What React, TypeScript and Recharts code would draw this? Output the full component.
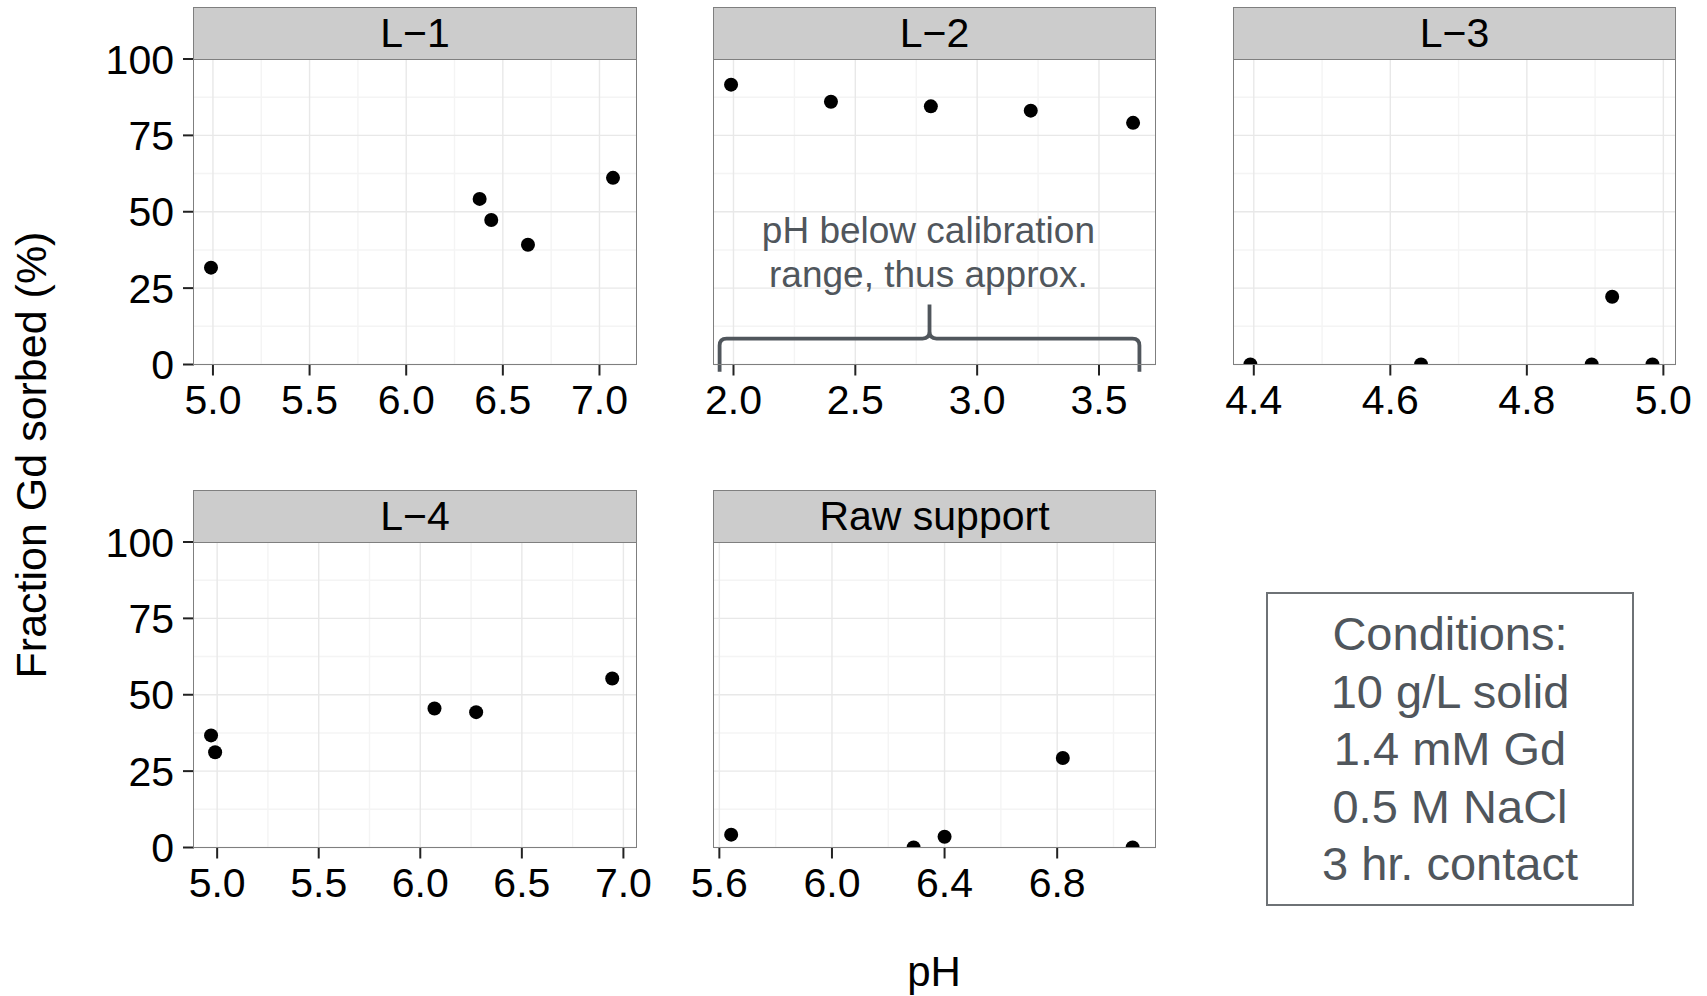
import React from "react";
import {
  ScatterChart,
  Scatter,
  XAxis,
  YAxis,
  ReferenceLine,
  ReferenceDot,
} from "recharts";

const FONT = '"Liberation Sans", Arial, Helvetica, sans-serif';
const NOTE_COLOR = "#50565c";

// values (pH, % Gd sorbed)
const l1PH = [4.99, 6.38, 6.44, 6.63, 7.07];
const l1Sorbed = [31.7, 54.2, 47.3, 39.2, 61.1];
const l2PH = [1.99, 2.4, 2.81, 3.22, 3.64];
const l2Sorbed = [91.6, 86.0, 84.5, 83.1, 79.1];
const l3PH = [4.395, 4.645, 4.895, 4.925, 4.984];
const l3Sorbed = [0, 0, 0, 22.2, 0];
const l4PH = [4.97, 4.99, 6.07, 6.275, 6.945];
const l4Sorbed = [36.7, 31.2, 45.5, 44.3, 55.3];
const rawPH = [5.642, 6.29, 6.4, 6.82, 7.068];
const rawSorbed = [4.2, 0, 3.5, 29.3, 0];

const panelNames = ["L\u22121", "L\u22122", "L\u22123", "L\u22124", "Raw support"];

// x ranges of each panel
const l1Range = [4.902, 7.189];
const l2Range = [1.92, 3.734];
const l3Range = [4.371, 5.0185];
const l4Range = [4.886, 7.062];
const rawRange = [5.581, 7.151];

// axis ticks
const yTicks = [0, 25, 50, 75, 100];
const yMinor = [12.5, 37.5, 62.5, 87.5];
const l1Ticks = [5.0, 5.5, 6.0, 6.5, 7.0];
const l1Minor = [5.25, 5.75, 6.25, 6.75];
const l2Ticks = [2.0, 2.5, 3.0, 3.5];
const l2Minor = [2.25, 2.75, 3.25];
const l3Ticks = [4.4, 4.6, 4.8, 5.0];
const l3Minor = [4.5, 4.7, 4.9];
const rawTicks = [5.6, 6.0, 6.4, 6.8];
const rawMinor = [5.8, 6.2, 6.6, 7.0];

// annotation on L-2: brace ends (pH) and heights (end, level, peak)
const braceX = [1.943, 3.666];
const braceY = [-2.4, 8.5, 19.6];
const noteLines = ["pH below calibration", "range, thus approx."];
const noteAt = [2.8, 39.9];

const conditions = ["Conditions:", "10 g/L solid", "1.4 mM Gd", "0.5 M NaCl", "3 hr. contact"];

// layout
const PLOT_W = 442;
const PLOT_H = 305.5;
const STRIP_H = 51;
const Y_W = 120;
const M_TOP = 25;
const M_RIGHT = 32;
const X_H = 75;
const COLS = [194, 713.5, 1233.5];
const ROWS = [59, 542];

const Dot = (props: any) => {
  if (props.cx == null || props.cy == null) return null;
  return <circle cx={props.cx} cy={props.cy} r={7} fill="#000" />;
};

const Brace = (props: any) => {
  const { x1, y1, x2, y2 } = props;
  const yl = y1 + ((y2 - y1) * (braceY[1] - braceY[0])) / (braceY[2] - braceY[0]);
  const xm = (x1 + x2) / 2;
  const r = 7;
  const d = [
    `M ${x1} ${y1}`,
    `L ${x1} ${yl + r}`,
    `Q ${x1} ${yl} ${x1 + r} ${yl}`,
    `L ${xm - r} ${yl}`,
    `Q ${xm} ${yl} ${xm} ${yl - r}`,
    `L ${xm} ${y2}`,
    `M ${xm} ${yl - r}`,
    `Q ${xm} ${yl} ${xm + r} ${yl}`,
    `L ${x2 - r} ${yl}`,
    `Q ${x2} ${yl} ${x2} ${yl + r}`,
    `L ${x2} ${y1}`,
  ].join(" ");
  return (
    <path d={d} fill="none" stroke={NOTE_COLOR} strokeWidth={3.8} strokeLinejoin="round" />
  );
};

const Note = (props: any) => (
  <text
    x={props.cx}
    y={props.cy}
    textAnchor="middle"
    fill={NOTE_COLOR}
    fontSize={37}
    fontFamily={FONT}
  >
    <tspan x={props.cx}>{noteLines[0]}</tspan>
    <tspan x={props.cx} dy={44.6}>
      {noteLines[1]}
    </tspan>
  </text>
);

interface PanelProps {
  name: string;
  ph: number[];
  sorbed: number[];
  range: number[];
  ticks: number[];
  minor: number[];
  left: number;
  top: number;
  showY?: boolean;
  note?: boolean;
}

const Panel = ({ name, ph, sorbed, range, ticks, minor, left, top, showY, note }: PanelProps) => {
  const data = ph.map((p, i) => ({ ph: p, sorbed: sorbed[i] }));
  const tickStyle = { fontSize: 41, fill: "#000", fontFamily: FONT };
  return (
    <>
      <div
        style={{
          position: "absolute",
          left: left - Y_W,
          top: top - M_TOP,
        }}
      >
        <ScatterChart
          width={Y_W + PLOT_W + M_RIGHT}
          height={M_TOP + PLOT_H + X_H}
          margin={{ top: M_TOP, right: M_RIGHT, bottom: 0, left: 0 }}
        >
          <XAxis
            type="number"
            dataKey="ph"
            domain={range}
            allowDataOverflow
            ticks={ticks}
            interval={0}
            tickFormatter={(v: number) => v.toFixed(1)}
            tick={tickStyle}
            tickSize={11}
            tickMargin={9}
            tickLine={{ stroke: "#222", strokeWidth: 2 }}
            axisLine={false}
            height={X_H}
          />
          <YAxis
            type="number"
            dataKey="sorbed"
            domain={[0, 100]}
            allowDataOverflow
            ticks={yTicks}
            interval={0}
            tick={showY ? tickStyle : false}
            tickSize={11}
            tickMargin={9}
            tickLine={showY ? { stroke: "#222", strokeWidth: 2 } : false}
            axisLine={false}
            width={Y_W}
          />
          {yMinor.map((v) => (
            <ReferenceLine key={`ym${v}`} y={v} stroke="#f4f4f4" strokeWidth={1.4} />
          ))}
          {minor.map((v) => (
            <ReferenceLine key={`xm${v}`} x={v} stroke="#f4f4f4" strokeWidth={1.4} />
          ))}
          {yTicks.map((v) => (
            <ReferenceLine key={`y${v}`} y={v} stroke="#e8e8e8" strokeWidth={1.4} />
          ))}
          {ticks.map((v) => (
            <ReferenceLine key={`x${v}`} x={v} stroke="#e8e8e8" strokeWidth={1.4} />
          ))}
          {note && (
            <ReferenceLine
              segment={[
                { x: braceX[0], y: braceY[0] },
                { x: braceX[1], y: braceY[2] },
              ]}
              ifOverflow="visible"
              shape={Brace}
            />
          )}
          {note && (
            <ReferenceDot x={noteAt[0]} y={noteAt[1]} r={0} shape={Note} />
          )}
          <Scatter data={data} shape={Dot} isAnimationActive={false} />
        </ScatterChart>
      </div>
      <div
        style={{
          position: "absolute",
          left: left - 0.75,
          top: top - 0.75,
          width: PLOT_W + 1.5,
          height: PLOT_H + 1.5,
          border: "1.5px solid #7f7f7f",
          boxSizing: "border-box",
          pointerEvents: "none",
        }}
      />
      <div
        style={{
          position: "absolute",
          left: left - 0.75,
          top: top - STRIP_H - 0.75,
          width: PLOT_W + 1.5,
          height: STRIP_H + 1.5,
          background: "#cccccc",
          border: "1.5px solid #7f7f7f",
          boxSizing: "border-box",
          display: "flex",
          alignItems: "center",
          justifyContent: "center",
          fontFamily: FONT,
          fontSize: 41,
          color: "#000",
        }}
      >
        {name}
      </div>
    </>
  );
};

export default function App() {
  return (
    <div
      style={{
        position: "absolute",
        left: 0,
        top: 0,
        width: 1707,
        height: 996,
        background: "#fff",
        overflow: "hidden",
        fontFamily: FONT,
      }}
    >
      <Panel name={panelNames[0]} ph={l1PH} sorbed={l1Sorbed} range={l1Range} ticks={l1Ticks} minor={l1Minor} left={COLS[0]} top={ROWS[0]} showY />
      <Panel name={panelNames[1]} ph={l2PH} sorbed={l2Sorbed} range={l2Range} ticks={l2Ticks} minor={l2Minor} left={COLS[1]} top={ROWS[0]} note />
      <Panel name={panelNames[2]} ph={l3PH} sorbed={l3Sorbed} range={l3Range} ticks={l3Ticks} minor={l3Minor} left={COLS[2]} top={ROWS[0]} />
      <Panel name={panelNames[3]} ph={l4PH} sorbed={l4Sorbed} range={l4Range} ticks={l1Ticks} minor={l1Minor} left={COLS[0]} top={ROWS[1]} showY />
      <Panel name={panelNames[4]} ph={rawPH} sorbed={rawSorbed} range={rawRange} ticks={rawTicks} minor={rawMinor} left={COLS[1]} top={ROWS[1]} />

      <div
        style={{
          position: "absolute",
          left: 31,
          top: 455,
          transform: "translate(-50%, -50%) rotate(-90deg)",
          whiteSpace: "nowrap",
          fontSize: 43,
          color: "#000",
        }}
      >
        Fraction Gd sorbed (%)
      </div>
      <div
        style={{
          position: "absolute",
          left: 934,
          top: 972,
          transform: "translate(-50%, -50%)",
          whiteSpace: "nowrap",
          fontSize: 42,
          color: "#000",
        }}
      >
        pH
      </div>

      <div
        style={{
          position: "absolute",
          left: 1266,
          top: 592,
          width: 368,
          padding: "11px 0",
          border: "2px solid #6e7276",
          boxSizing: "border-box",
          textAlign: "center",
          fontSize: 47,
          lineHeight: "57.5px",
          color: NOTE_COLOR,
        }}
      >
        {conditions.map((c) => (
          <div key={c}>{c}</div>
        ))}
      </div>
    </div>
  );
}
